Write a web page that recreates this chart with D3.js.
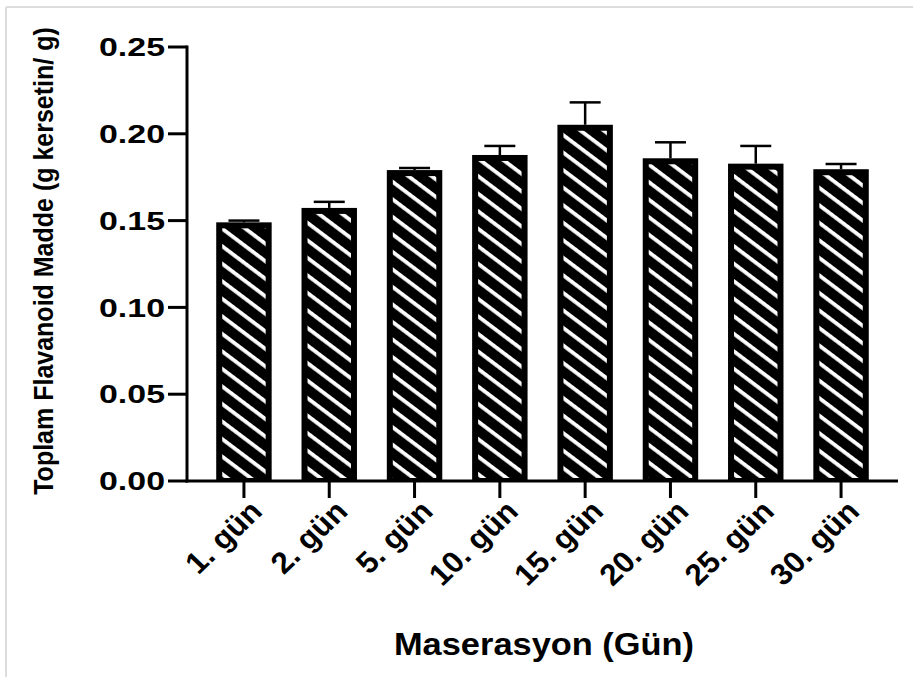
<!DOCTYPE html>
<html>
<head>
<meta charset="utf-8">
<script src="https://cdn.jsdelivr.net/npm/d3@7"></script>
<style>
  html, body { margin: 0; padding: 0; background: #fff; }
  svg { display: block; }
  text { font-family: "Liberation Sans", Arial, sans-serif; font-weight: bold; fill: #000; }
</style>
</head>
<body>
<svg id="chart" width="913" height="677"></svg>
<script>
// ---- data ----
const categories = ["1. gün", "2. gün", "5. gün", "10. gün", "15. gün", "20. gün", "25. gün", "30. gün"];
const means = [0.149, 0.1573, 0.1791, 0.1878, 0.2052, 0.1859, 0.1828, 0.1796];
const errors = [0.001, 0.0035, 0.0012, 0.0052, 0.0129, 0.0092, 0.0102, 0.003];
const yTicks = [0, 0.05, 0.10, 0.15, 0.20, 0.25];
const yTitle = "Toplam Flavanoid Madde (g kersetin/ g)";
const xTitle = "Maserasyon (Gün)";

const svg = d3.select("#chart");
const W = 913, H = 677;
const SX = 1.05; // slight horizontal text stretch seen in reference

// frame
svg.append("line").attr("x1", 6).attr("x2", W).attr("y1", 7).attr("y2", 7)
  .attr("stroke", "#dcdcdc").attr("stroke-width", 2);
svg.append("line").attr("x1", 6).attr("x2", 6).attr("y1", 7).attr("y2", H)
  .attr("stroke", "#dcdcdc").attr("stroke-width", 2);

const x = d3.scaleBand().domain(categories).range([187, 898]).paddingInner(0.35).paddingOuter(0.3425);
const y = d3.scaleLinear().domain([0, 0.25]).range([481, 47]);

// hatch pattern
const defs = svg.append("defs");
const pat = defs.append("pattern").attr("id", "hatch").attr("patternUnits", "userSpaceOnUse")
  .attr("width", 14).attr("height", 14).attr("patternTransform", "rotate(37)");
pat.append("rect").attr("width", 14).attr("height", 14).attr("fill", "#000");
pat.append("rect").attr("x", 0).attr("y", 5).attr("width", 14).attr("height", 3.8).attr("fill", "#fff");

const bars = svg.append("g");
categories.forEach((c, i) => {
  const x0 = x(c), bw = x.bandwidth(), yt = y(means[i]), yb = y(0);
  bars.append("rect").attr("x", x0).attr("y", yt).attr("width", bw).attr("height", yb - yt).attr("fill", "#000");
  bars.append("rect").attr("x", x0 + 6).attr("y", yt + 6).attr("width", bw - 12).attr("height", Math.max(0, yb - yt - 9))
    .attr("fill", "url(#hatch)");
  // error bar
  const cx = x0 + bw / 2, ye = y(means[i] + errors[i]);
  bars.append("line").attr("x1", cx).attr("x2", cx).attr("y1", yt).attr("y2", ye)
    .attr("stroke", "#000").attr("stroke-width", 2.5);
  bars.append("line").attr("x1", cx - 15.5).attr("x2", cx + 15.5).attr("y1", ye).attr("y2", ye)
    .attr("stroke", "#000").attr("stroke-width", 2.5);
});

// y axis
const yAxis = svg.append("g");
yAxis.append("line").attr("x1", 187).attr("x2", 187).attr("y1", y(0.25) - 1.5).attr("y2", y(0) + 1.5)
  .attr("stroke", "#000").attr("stroke-width", 3);
yTicks.forEach(t => {
  yAxis.append("line").attr("x1", 168).attr("x2", 187).attr("y1", y(t)).attr("y2", y(t))
    .attr("stroke", "#000").attr("stroke-width", 3);
  yAxis.append("text").attr("text-anchor", "end")
    .attr("transform", `translate(165,${y(t)}) scale(1.33,1)`)
    .attr("dy", "0.36em").attr("font-size", 25.5).text(d3.format(".2f")(t));
});

// x axis
const xAxis = svg.append("g");
xAxis.append("line").attr("x1", 185.5).attr("x2", 898).attr("y1", y(0)).attr("y2", y(0))
  .attr("stroke", "#000").attr("stroke-width", 3);
categories.forEach(c => {
  const cx = x(c) + x.bandwidth() / 2;
  xAxis.append("line").attr("x1", cx).attr("x2", cx).attr("y1", y(0)).attr("y2", y(0) + 17)
    .attr("stroke", "#000").attr("stroke-width", 3);
  xAxis.append("text").attr("text-anchor", "end")
    .attr("transform", `translate(${cx + 20},${y(0) + 32}) scale(${SX},1) rotate(-45)`)
    .attr("font-size", 30).text(c);
});

// titles
svg.append("text").attr("text-anchor", "middle")
  .attr("transform", `translate(544,655) scale(1.11,1)`)
  .attr("font-size", 31).text(xTitle);
svg.append("text").attr("text-anchor", "middle")
  .attr("transform", `translate(53,261) scale(1.11,1) rotate(-90)`)
  .attr("font-size", 25).text(yTitle);
</script>
</body>
</html>
